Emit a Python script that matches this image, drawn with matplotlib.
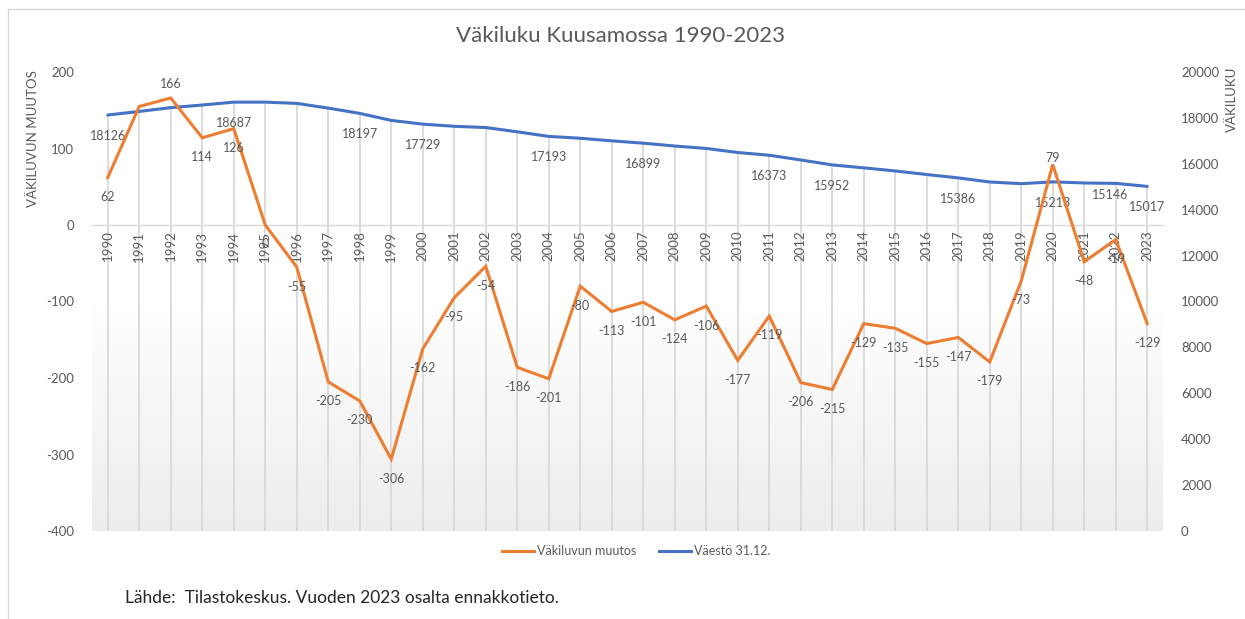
import matplotlib
matplotlib.use("Agg")
import matplotlib.pyplot as plt
from matplotlib.colors import LinearSegmentedColormap
from matplotlib.lines import Line2D
import numpy as np

plt.rcParams['font.family'] = ['Lato', 'DejaVu Sans']
plt.rcParams['axes.unicode_minus'] = False

# data
years = list(range(1990, 2024))
muutos = [62, 155, 166, 114, 126, 0, -55, -205, -230, -306,
          -162, -95, -54, -186, -201, -80, -113, -101, -124, -106,
          -177, -119, -206, -215, -129, -135, -155, -147, -179, -73,
          79, -48, -19, -129]
vaesto = [18126, 18281, 18447, 18561, 18687, 18687, 18632, 18427, 18197, 17891,
          17729, 17634, 17580, 17394, 17193, 17113, 17000, 16899, 16775, 16669,
          16492, 16373, 16167, 15952, 15823, 15688, 15533, 15386, 15207, 15134,
          15213, 15165, 15146, 15017]
# which years carry a population label in the original
vaesto_labels = [1990, 1994, 1998, 2000, 2004, 2007, 2011, 2013, 2017, 2020, 2022, 2023]
muutos_hidden = [1991]

ORANGE = '#ED7D31'
BLUE = '#4472C4'
GREY = '#595959'

W, H = 1245, 619
fig = plt.figure(figsize=(W / 100, H / 100), dpi=100)

# plot area in pixels: x 92..1163, y 72..531
ax = fig.add_axes([92 / W, 1 - 531 / H, (1163 - 92) / W, (531 - 72) / H])
ax2 = ax.twinx()
ax.set_zorder(ax2.get_zorder() + 1)
ax.patch.set_visible(False)

x = np.arange(len(years))

# gradient background (white at top, light grey at bottom) + drop lines
cmap = LinearSegmentedColormap.from_list('bg', ['#ffffff', '#ffffff', '#ededed'])
grad = np.linspace(0, 1, 256).reshape(-1, 1)
ax2.imshow(grad, extent=[0, 1, 0, 1], transform=ax2.transAxes, aspect='auto',
           cmap=cmap, zorder=0, origin='upper')
ax2.vlines(x, 0, vaesto, color='#d9d9d9', lw=1.3, zorder=1)
ax2.plot(x, vaesto, color=BLUE, lw=2.2, zorder=3, solid_capstyle='round')
ax2.set_ylim(0, 20000)
ax2.set_yticks(np.arange(0, 20001, 2000))

ax.plot(x, muutos, color=ORANGE, lw=2.2, zorder=3, solid_joinstyle='miter')
ax.set_xlim(-0.5, len(years) - 0.5)
ax.set_ylim(-400, 200)
ax2.set_xlim(-0.5, len(years) - 0.5)
ax.set_yticks(np.arange(-400, 201, 100))

# category axis on the zero line
ax.spines['bottom'].set_position(('data', 0))
ax.spines['bottom'].set_color('#d9d9d9')
ax.spines['bottom'].set_linewidth(1.0)
for s in ['top', 'left', 'right']:
    ax.spines[s].set_visible(False)
for s in ['top', 'left', 'right', 'bottom']:
    ax2.spines[s].set_visible(False)
ax.set_xticks(x)
ax.set_xticklabels([str(y) for y in years], rotation=90, fontsize=9.5, color=GREY)
ax.tick_params(axis='x', length=0, pad=4)
ax.tick_params(axis='y', length=0, pad=13, labelsize=9.5, labelcolor=GREY)
ax2.tick_params(axis='y', length=0, pad=13, labelsize=9.5, labelcolor=GREY)

# data labels
for i, (yr, v) in enumerate(zip(years, muutos)):
    if yr in muutos_hidden:
        continue
    dy = -14
    if v == 166:
        dy = 10
    elif v == 79:
        dy = 5
    ax.annotate(str(v), (i, v), xytext=(0, dy), textcoords='offset points',
                ha='center', va='center', fontsize=9, color=GREY, zorder=5)
for i, (yr, v) in enumerate(zip(years, vaesto)):
    if yr not in vaesto_labels:
        continue
    off = (-4, -8) if yr == 2022 else (0, -15)
    ax2.annotate(str(v), (i, v), xytext=off, textcoords='offset points',
                 ha='center', va='center', fontsize=9, color=GREY, zorder=5)

# titles
fig.text(620 / W, 1 - 36 / H, 'Väkiluku Kuusamossa 1990-2023', ha='center', va='center',
         fontsize=16, color=GREY)
fig.text(33 / W, 1 - 139 / H, 'VÄKILUVUN MUUTOS', rotation=90, ha='center', va='center',
         fontsize=9.5, color=GREY)
fig.text(1232 / W, 1 - 99 / H, 'VÄKILUKU', rotation=90, ha='center', va='center',
         fontsize=9.5, color=GREY)

handles = [Line2D([], [], color=ORANGE, lw=2.2), Line2D([], [], color=BLUE, lw=2.2)]
fig.legend(handles, ['Väkiluvun muutos', 'Väestö 31.12.'], loc='center',
           bbox_to_anchor=(636 / W, 1 - 551 / H), ncol=2, frameon=False,
           fontsize=9, labelcolor=GREY, handlelength=2.6, handletextpad=0.2,
           columnspacing=1.8)

fig.text(125 / W, 1 - 598 / H, 'Lähde:  Tilastokeskus. Vuoden 2023 osalta ennakkotieto.',
         ha='left', va='center', fontsize=12.5, color='#262626')

# outer chart frame (top and left edges visible in the screenshot)
fig.add_artist(Line2D([8 / W, 1], [1 - 9 / H, 1 - 9 / H], color='#d9d9d9', lw=1,
                      transform=fig.transFigure))
fig.add_artist(Line2D([8 / W, 8 / W], [0, 1 - 9 / H], color='#d9d9d9', lw=1,
                      transform=fig.transFigure))

fig.savefig('out.png', dpi=100)
